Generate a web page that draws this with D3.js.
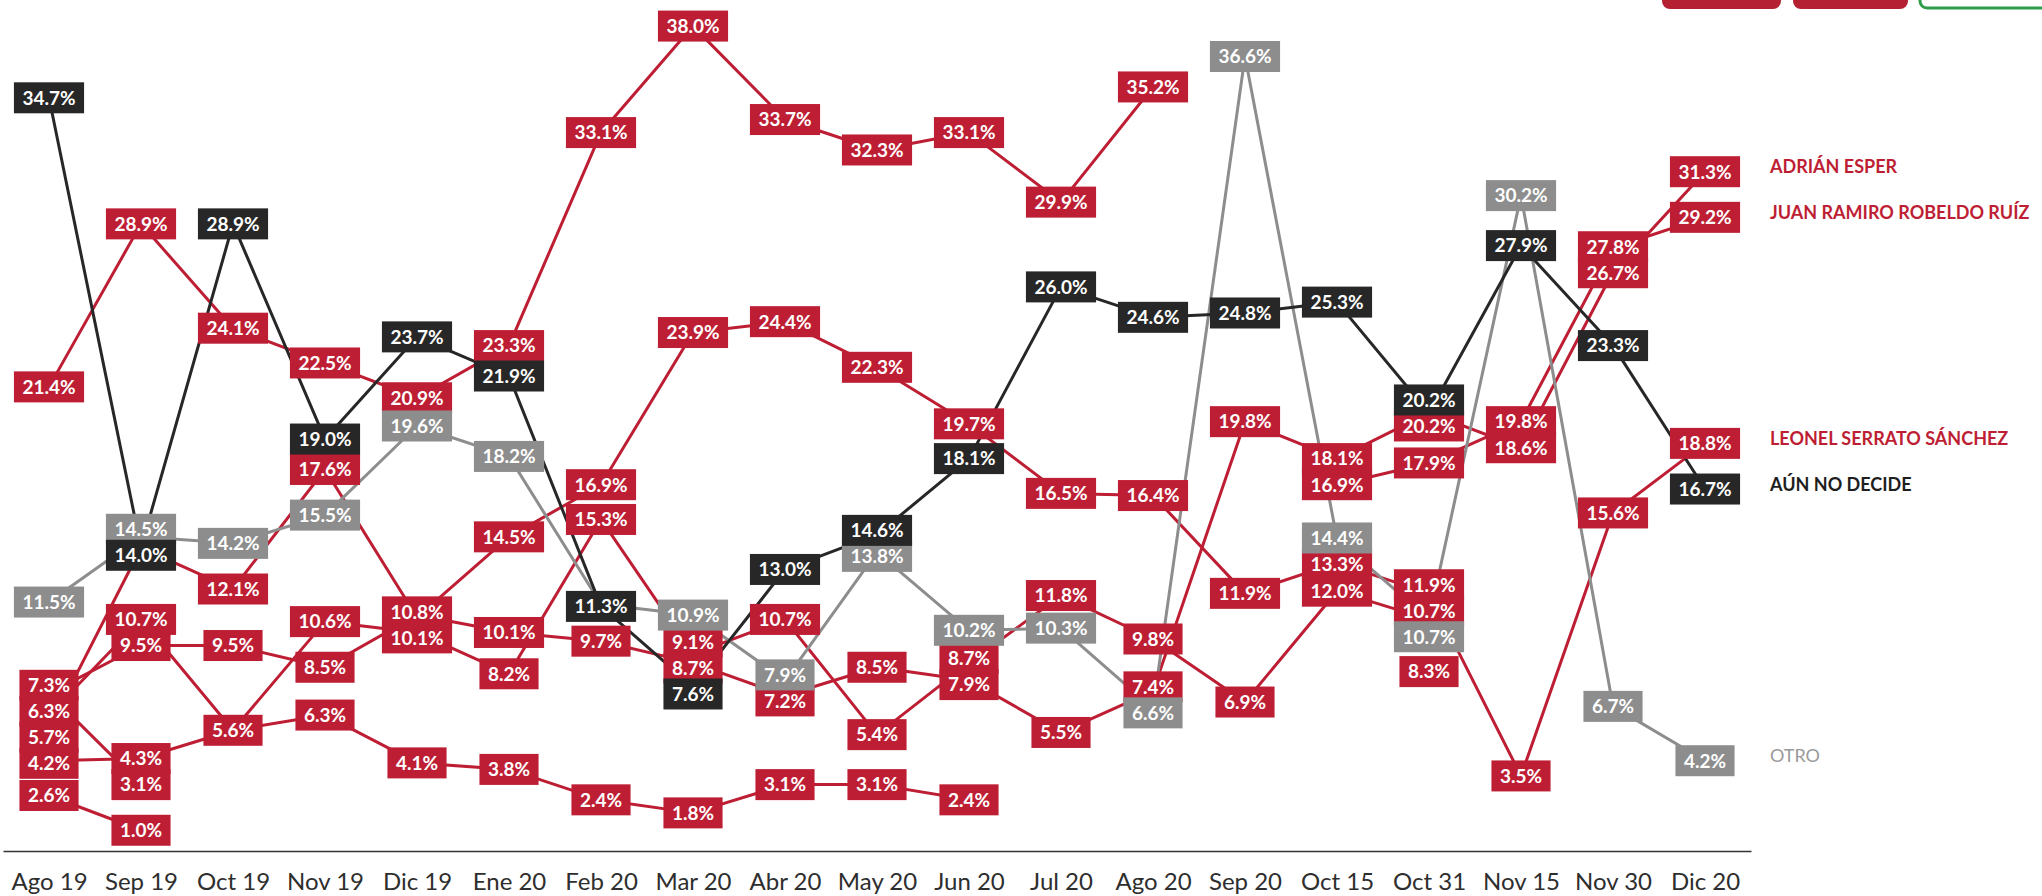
<!DOCTYPE html>
<html><head><meta charset="utf-8">
<script src="https://cdn.jsdelivr.net/npm/d3@7"></script>
<style>
html,body{margin:0;padding:0;background:#fff;}
svg{display:block;}
</style></head><body>
<svg id="chart" width="2042" height="896"></svg>
<script>
// ---------------- DATA ----------------
const categories = ["Ago 19","Sep 19","Oct 19","Nov 19","Dic 19","Ene 20","Feb 20","Mar 20","Abr 20","May 20","Jun 20","Jul 20","Ago 20","Sep 20","Oct 15","Oct 31","Nov 15","Nov 30","Dic 20"];

const candidatoA      = [21.4, 28.9, 24.1, 22.5, 20.9, 23.3, 33.1, 38.0, 33.7, 32.3, 33.1, 29.9, 35.2, null, null, null, null, null, null];
const leonelSerrato   = [5.7, 14.0, 12.1, 17.6, 10.8, 14.5, 16.9, 23.9, 24.4, 22.3, 19.7, 16.5, 16.4, 11.9, 13.3, 11.9, 3.5, 15.6, 18.8];
const candidatoB      = [6.3, 10.7, 5.6, 10.6, 10.1, 8.2, 15.3, 9.1, 10.7, 5.4, 8.7, 11.8, 9.8, 6.9, 12.0, 10.7, null, null, null];
const candidatoC      = [4.2, 4.3, 5.6, 6.3, 4.1, 3.8, 2.4, 1.8, 3.1, 3.1, 2.4, null, null, null, null, null, null, null, null];
const adrianEsper     = [7.3, 9.5, 9.5, 8.5, 10.9, 10.1, 9.7, 8.7, 7.2, 8.5, 7.9, 5.5, 7.4, 19.8, 18.1, 20.2, 18.6, 26.7, 31.3];
const candidatoD      = [7.3, 3.1, null, null, null, null, null, null, null, null, null, null, null, null, null, null, null, null, null];
const candidatoE      = [2.6, 1.0, null, null, null, null, null, null, null, null, null, null, null, null, null, null, null, null, null];
const juanRamiro      = [null, null, null, null, null, null, null, null, null, null, null, null, null, null, 16.9, 17.9, 19.8, 27.8, 29.2];
const candidatoF      = [null, null, null, null, null, null, null, null, null, null, null, null, null, null, null, 8.3, null, null, null];
const otro            = [11.5, 14.5, 14.2, 15.5, 19.6, 18.2, 11.4, 10.9, 7.9, 13.8, 10.2, 10.3, 6.6, 36.6, 14.4, 10.7, 30.2, 6.7, 4.2];
const aunNoDecide     = [34.7, 14.0, 28.9, 19.0, 23.7, 21.9, 11.3, 7.6, 13.0, 14.6, 18.1, 26.0, 24.6, 24.8, 25.3, 20.2, 27.9, 23.3, 16.7];

// labels hidden behind other boxes in the original: [series key, category]
const hiddenLabels = [["leonel","Sep 19"],["candC","Oct 19"],["adrian","Dic 19"],["candD","Ago 19"],["otro","Feb 20"]];

const legendNames = {adrian:"ADRIÁN ESPER", juan:"JUAN RAMIRO ROBELDO RUÍZ", leonel:"LEONEL SERRATO SÁNCHEZ", aun:"AÚN NO DECIDE", otro:"OTRO"};

// ---------------- STYLE ----------------
const RED = "#BE1E34", BLACK = "#272727", GRAY = "#8D8D8D";
const series = [
  {key:"candA", values:candidatoA, color:RED, tie:1},
  {key:"leonel", values:leonelSerrato, color:RED, tie:1},
  {key:"candB", values:candidatoB, color:RED, tie:1},
  {key:"candC", values:candidatoC, color:RED, tie:1},
  {key:"adrian", values:adrianEsper, color:RED, tie:1},
  {key:"candD", values:candidatoD, color:RED, tie:1},
  {key:"candE", values:candidatoE, color:RED, tie:1},
  {key:"juan", values:juanRamiro, color:RED, tie:1},
  {key:"candF", values:candidatoF, color:RED, tie:1},
  {key:"otro", values:otro, color:GRAY, tie:2},
  {key:"aun", values:aunNoDecide, color:BLACK, tie:0}
];

const svg = d3.select("#chart");
const FONT = "Lato, 'Open Sans', sans-serif";

const x = d3.scalePoint().domain(categories).range([3, 1751]).padding(0.5);
const y = d3.scaleLinear().domain([0, 39.2]).range([852, 0]);

// top-right decorative (cut-off logos)
const deco = svg.append("g");
deco.append("rect").attr("x",1662).attr("y",-14).attr("width",119).attr("height",23).attr("rx",8).attr("fill","#B52033");
deco.append("rect").attr("x",1793).attr("y",-14).attr("width",115).attr("height",23).attr("rx",8).attr("fill","#B52033");
deco.append("rect").attr("x",1920).attr("y",-14).attr("width",140).attr("height",22).attr("rx",7).attr("fill","#fff").attr("stroke","#2E9D4A").attr("stroke-width",3);

// axis
const axisG = svg.append("g").attr("transform","translate(0,851)")
  .call(d3.axisBottom(x).tickSize(0).tickSizeOuter(0).tickPadding(22));
axisG.select(".domain").attr("stroke","#333").attr("stroke-width",1.6);
axisG.selectAll("text").attr("font-family",FONT).attr("font-size",24).attr("fill","#2e2e2e");

// lines
const line = d3.line().defined(d => d.v != null).x(d => x(d.c)).y(d => y(d.v));
const linesG = svg.append("g");
series.forEach(s => {
  const pts = categories.map((c,i) => ({c, v:s.values[i]}));
  linesG.append("path").attr("d", line(pts)).attr("fill","none")
    .attr("stroke", s.color).attr("stroke-width",3).attr("stroke-linejoin","round");
});

// labels with per-category vertical de-overlap
const hiddenSet = new Set(hiddenLabels.map(h => h[0]+"|"+h[1]));
const GAP = 26, BOXH = 31;
const allLabels = [];
categories.forEach((c,i) => {
  const items = [];
  series.forEach((s,si) => {
    const v = s.values[i];
    if (v == null || hiddenSet.has(s.key+"|"+c)) return;
    items.push({c, v, s, si, yNat:y(v), tie:s.tie});
  });
  items.sort((a,b) => a.yNat - b.yNat || a.tie - b.tie);
  let clusters = items.map(it => ({items:[it], sum:it.yNat}));
  const top = cl => cl.sum/cl.items.length - (cl.items.length-1)*GAP/2;
  let changed = true;
  while (changed) {
    changed = false;
    for (let k=0;k<clusters.length-1;k++) {
      const a = clusters[k], b = clusters[k+1];
      const aLast = top(a) + (a.items.length-1)*GAP;
      if (top(b) - aLast < GAP) {
        clusters.splice(k, 2, {items:a.items.concat(b.items), sum:a.sum+b.sum});
        changed = true; break;
      }
    }
  }
  clusters.forEach(cl => {
    const t = top(cl);
    cl.items.forEach((it,j) => { it.yPos = t + j*GAP; allLabels.push(it); });
  });
});
// draw order: red, gray, black
const order = {1:0, 2:1, 0:2};
allLabels.sort((a,b) => order[a.tie]-order[b.tie] || a.si-b.si);
const labG = svg.append("g");
allLabels.forEach(it => {
  const g = labG.append("g").attr("transform",`translate(${x(it.c)},${it.yPos})`);
  const r = g.append("rect").attr("fill", it.s.color);
  const t = g.append("text").text(d3.format(".1f")(it.v)+"%")
    .attr("text-anchor","middle").attr("dy","0.36em")
    .attr("font-family",FONT).attr("font-weight",700).attr("font-size",19).attr("fill","#fff");
  const w = t.node().getComputedTextLength() + 17;
  r.attr("x",-w/2).attr("y",-BOXH/2).attr("width",w).attr("height",BOXH);
});

// legend (end labels)
const legG = svg.append("g");
series.filter(s => legendNames[s.key]).forEach(s => {
  const last = s.values[s.values.length-1];
  legG.append("text").text(legendNames[s.key])
    .attr("x",1770).attr("y", y(last)-5).attr("dy","0.36em")
    .attr("font-family",FONT).attr("font-size",18)
    .attr("font-weight", s.key==="otro" ? 400 : 700)
    .attr("fill", s.key==="otro" ? "#9a9a9a" : (s.color===BLACK ? "#1e1e1e" : s.color));
});
</script>
</body></html>
